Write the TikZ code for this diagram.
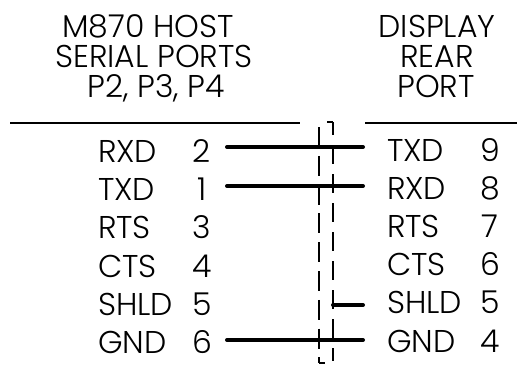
\documentclass[tikz,border=0pt]{standalone}
\usepackage{fontspec}
\setmainfont{Poppins}[UprightFont=* Light]
\tikzset{
  lbltext/.style={inner sep=0pt,outer sep=0pt,font=\fontsize{31.5}{32}\selectfont},
  pinname/.style={lbltext,anchor=base west},
  pinnum/.style={lbltext,anchor=base},
  hdrtext/.style={lbltext,anchor=base},
  hrule/.style={line width=2.4pt},
  wire/.style={line width=4pt,line cap=round},
  shield/.style={line width=2.3pt}}
\begin{document}
\begin{tikzpicture}[x=1pt,y=-1pt]
\useasboundingbox (0,0) rectangle (517,367);
% headers
\node[hdrtext] (h1) at (148,37) {M870 HOST};
\node[hdrtext] (h2) at (154,67) {SERIAL PORTS};
\node[hdrtext] (h3) at (156,97) {P2, P3, P4};
\node[hdrtext] (h4) at (437,37) {DISPLAY};
\node[hdrtext] (h5) at (437,67) {REAR};
\node[hdrtext] (h6) at (436,97) {PORT};
\coordinate (rl1) at (10,123); \coordinate (rl2) at (300,123);
\coordinate (rr1) at (365,123); \coordinate (rr2) at (517,123);
\draw[hrule] (rl1) -- (rl2);
\draw[hrule] (rr1) -- (rr2);
% left pins
\foreach \n/\p/\y [count=\i] in {RXD/2/162,TXD/1/200,RTS/3/238,CTS/4/277,SHLD/5/315,GND/6/353}{
  \node[pinname] (ln\i) at (98,\y) {\n};
  \node[pinnum] (lp\i) at (202,\y) {\p};
}
% right pins
\foreach \n/\p/\y [count=\i] in {TXD/9/161,RXD/8/199,RTS/7/237,CTS/6/275,SHLD/5/313,GND/4/352}{
  \node[pinname] (rn\i) at (387,\y) {\n};
  \node[pinnum] (rp\i) at (490,\y) {\p};
}
% wire end points
\coordinate (a1) at (227,147); \coordinate (b1) at (363,147);
\coordinate (a2) at (227,186); \coordinate (b2) at (363,186);
\coordinate (a6) at (227,340); \coordinate (b6) at (363,340);
\coordinate (s5) at (333,305); \coordinate (b5) at (363,305);
% shield lines
\coordinate (lt) at (319,127); \coordinate (lb) at (319,363); \coordinate (lh) at (325,363);
\coordinate (rt) at (333,122); \coordinate (rb) at (333,361); \coordinate (rh) at (327,122);
\coordinate (rs) at (333,290);
\draw[shield,dash pattern=on 20pt off 8.8pt] (lt) -- (lb);
\draw[shield] (lb) -- (lh);
\draw[shield,dash pattern=on 19pt off 10pt,dash phase=6pt] (rt) -- (rb);
\draw[shield] (rh) -- (rt);
\draw[shield] (rs) -- (s5);
% wires
\draw[wire] (a1) -- (b1);
\draw[wire] (a2) -- (b2);
\draw[wire] (a6) -- (b6);
\draw[wire] (s5) -- (b5);
\end{tikzpicture}
\end{document}
